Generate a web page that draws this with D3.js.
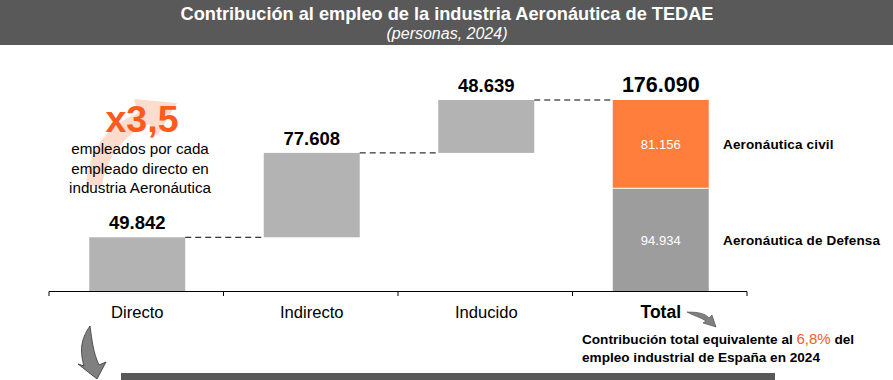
<!DOCTYPE html>
<html><head><meta charset="utf-8">
<script src="https://cdn.jsdelivr.net/npm/d3@7"></script>
<style>body{margin:0;background:#fff}svg{display:block;font-family:"Liberation Sans",Arial,sans-serif}</style>
</head><body><svg id="c" width="893" height="380"></svg>
<script>
const categories = ["Directo","Indirecto","Inducido","Total"];
const values = [49842, 77608, 48639];
const totalParts = [94934, 81156];
const partNames = ["Aeronáutica de Defensa","Aeronáutica civil"];
const valueLabels = ["49.842","77.608","48.639","176.090"];
const partLabels = ["94.934","81.156"];
const total = 176090;

const svg = d3.select("#c");
const W = 893, H = 380;

// title band
svg.append("rect").attr("x",0).attr("y",0).attr("width",W).attr("height",45).attr("fill","#595959");
svg.append("text").attr("x",447).attr("y",20).attr("text-anchor","middle").attr("fill","#fff")
  .attr("font-size",18.2).attr("font-weight","bold").text("Contribución al empleo de la industria Aeronáutica de TEDAE");
svg.append("text").attr("x",447).attr("y",39).attr("text-anchor","middle").attr("fill","#fff")
  .attr("font-size",16).attr("font-style","italic").text("(personas, 2024)");

const x = d3.scaleBand().domain(categories).range([49,747]).padding(0);
const y = d3.scaleLinear().domain([0,total]).range([291.5,100]);
const bw = x.bandwidth()*0.55;

// waterfall data
let cum = 0;
const bars = values.map((v,i)=>{ const b={cat:categories[i],y0:cum,y1:cum+v}; cum+=v; return b; });

svg.selectAll(".wb").data(bars).enter().append("rect")
  .attr("x",d=>x(d.cat)+x.bandwidth()/2-bw/2+1)
  .attr("width",bw)
  .attr("y",d=>y(d.y1)).attr("height",d=>y(d.y0)-y(d.y1))
  .attr("fill","#b3b3b3");

// total stacked
const stack = [{y0:0,y1:totalParts[0],c:"#9d9d9d",l:partLabels[0]},{y0:totalParts[0],y1:total,c:"#ff7e3b",l:partLabels[1]}];
const tx = x("Total")+x.bandwidth()/2-bw/2+1;
svg.selectAll(".tb").data(stack).enter().append("rect")
  .attr("x",tx).attr("width",bw)
  .attr("y",d=>y(d.y1)).attr("height",d=>y(d.y0)-y(d.y1))
  .attr("fill",d=>d.c);
svg.append("line").attr("x1",tx).attr("x2",tx+bw).attr("y1",y(totalParts[0])).attr("y2",y(totalParts[0])).attr("stroke","#fff").attr("stroke-width",1);
svg.selectAll(".tl").data(stack).enter().append("text")
  .attr("x",tx+bw/2).attr("y",d=>(y(d.y0)+y(d.y1))/2+5).attr("text-anchor","middle")
  .attr("fill","#fff").attr("font-size",13).text(d=>d.l);
svg.selectAll(".pn").data(stack).enter().append("text")
  .attr("x",723).attr("y",d=>(y(d.y0)+y(d.y1))/2+5)
  .attr("font-size",13.5).attr("letter-spacing",0.15).attr("font-weight","bold").attr("fill","#000").text((d,i)=>partNames[i]);

// connectors
const ends = bars.map(b=>b.y1);
const catsNext = categories.slice(1);
svg.selectAll(".cn").data(ends).enter().append("line")
  .attr("x1",(d,i)=>x(categories[i])+x.bandwidth()/2+bw/2+1)
  .attr("x2",(d,i)=>x(catsNext[i])+x.bandwidth()/2-bw/2+1)
  .attr("y1",d=>y(d)).attr("y2",d=>y(d))
  .attr("stroke","#000").attr("stroke-width",1).attr("stroke-dasharray","6,4");

// value labels
const tops = [...ends, total];
svg.selectAll(".vl").data(tops).enter().append("text")
  .attr("x",(d,i)=>x(categories[i])+x.bandwidth()/2+1)
  .attr("y",d=>y(d)-8).attr("text-anchor","middle")
  .attr("font-weight","bold").attr("fill","#000")
  .attr("font-size",(d,i)=>i===3?21.5:18.5).text((d,i)=>valueLabels[i]);

// axis
const ax = svg.append("g").attr("transform","translate(0,291.5)");
ax.append("line").attr("x1",49).attr("x2",747).attr("stroke","#000");
const tickPos = categories.map(c=>x(c)).concat([747]);
ax.selectAll(".tk").data(tickPos).enter().append("line")
  .attr("x1",d=>d).attr("x2",d=>d).attr("y1",0).attr("y2",4.5).attr("stroke","#000");
svg.selectAll(".cl").data(categories).enter().append("text")
  .attr("x",d=>x(d)+x.bandwidth()/2+1).attr("y",318).attr("text-anchor","middle")
  .attr("font-size",d=>d==="Total"?17.5:16.6).attr("font-weight",d=>d==="Total"?"bold":"normal")
  .attr("fill","#000").text(d=>d);

// faint arrow behind x3,5
svg.append("path").attr("d","M86,186 C88,152 106,126 138,113 L134,99 L177,103 L157,136 L149,124 C121,136 106,160 102,186 Z")
  .attr("fill","#fcdccc");
svg.append("text").attr("x",142).attr("y",132).attr("text-anchor","middle")
  .attr("font-size",37.5).attr("font-weight","bold").attr("fill","#ff5a1e").text("x3,5");
const note = ["empleados por cada","empleado directo en","industria Aeronáutica"];
svg.selectAll(".nt").data(note).enter().append("text")
  .attr("x",140).attr("y",(d,i)=>154+i*19.5).attr("text-anchor","middle")
  .attr("font-size",15.2).attr("fill","#000").text(d=>d);

// down arrow
svg.append("path").attr("d","M90,326 C80,340 80,352 84,366 L78,364 L97,379 L106,362 L99,365 C93,352 92,340 90,326 Z")
  .attr("fill","#808080").attr("stroke","#333").attr("stroke-width",0.8);
// total arrow
svg.append("path").attr("d","M687,312 C697,312 705,313 709,318 L712,315 L716,327 L703,323 L706,321 C700,317 694,316 687,312 Z")
  .attr("fill","#808080").attr("stroke","#444").attr("stroke-width",0.6);

// bottom band
svg.append("rect").attr("x",121).attr("y",373).attr("width",654).attr("height",7).attr("fill","#595959");

// contribution note
const t1 = svg.append("text").attr("x",582).attr("y",344).attr("font-size",13.6).attr("font-weight","bold").attr("fill","#000");
t1.append("tspan").text("Contribución total equivalente al ");
t1.append("tspan").attr("fill","#ff5a1e").attr("font-size",15).attr("font-weight","normal").text("6,8%");
t1.append("tspan").text(" del");
svg.append("text").attr("x",582).attr("y",362).attr("font-size",13.6).attr("font-weight","bold").attr("fill","#000").text("empleo industrial de España en 2024");
</script></body></html>
